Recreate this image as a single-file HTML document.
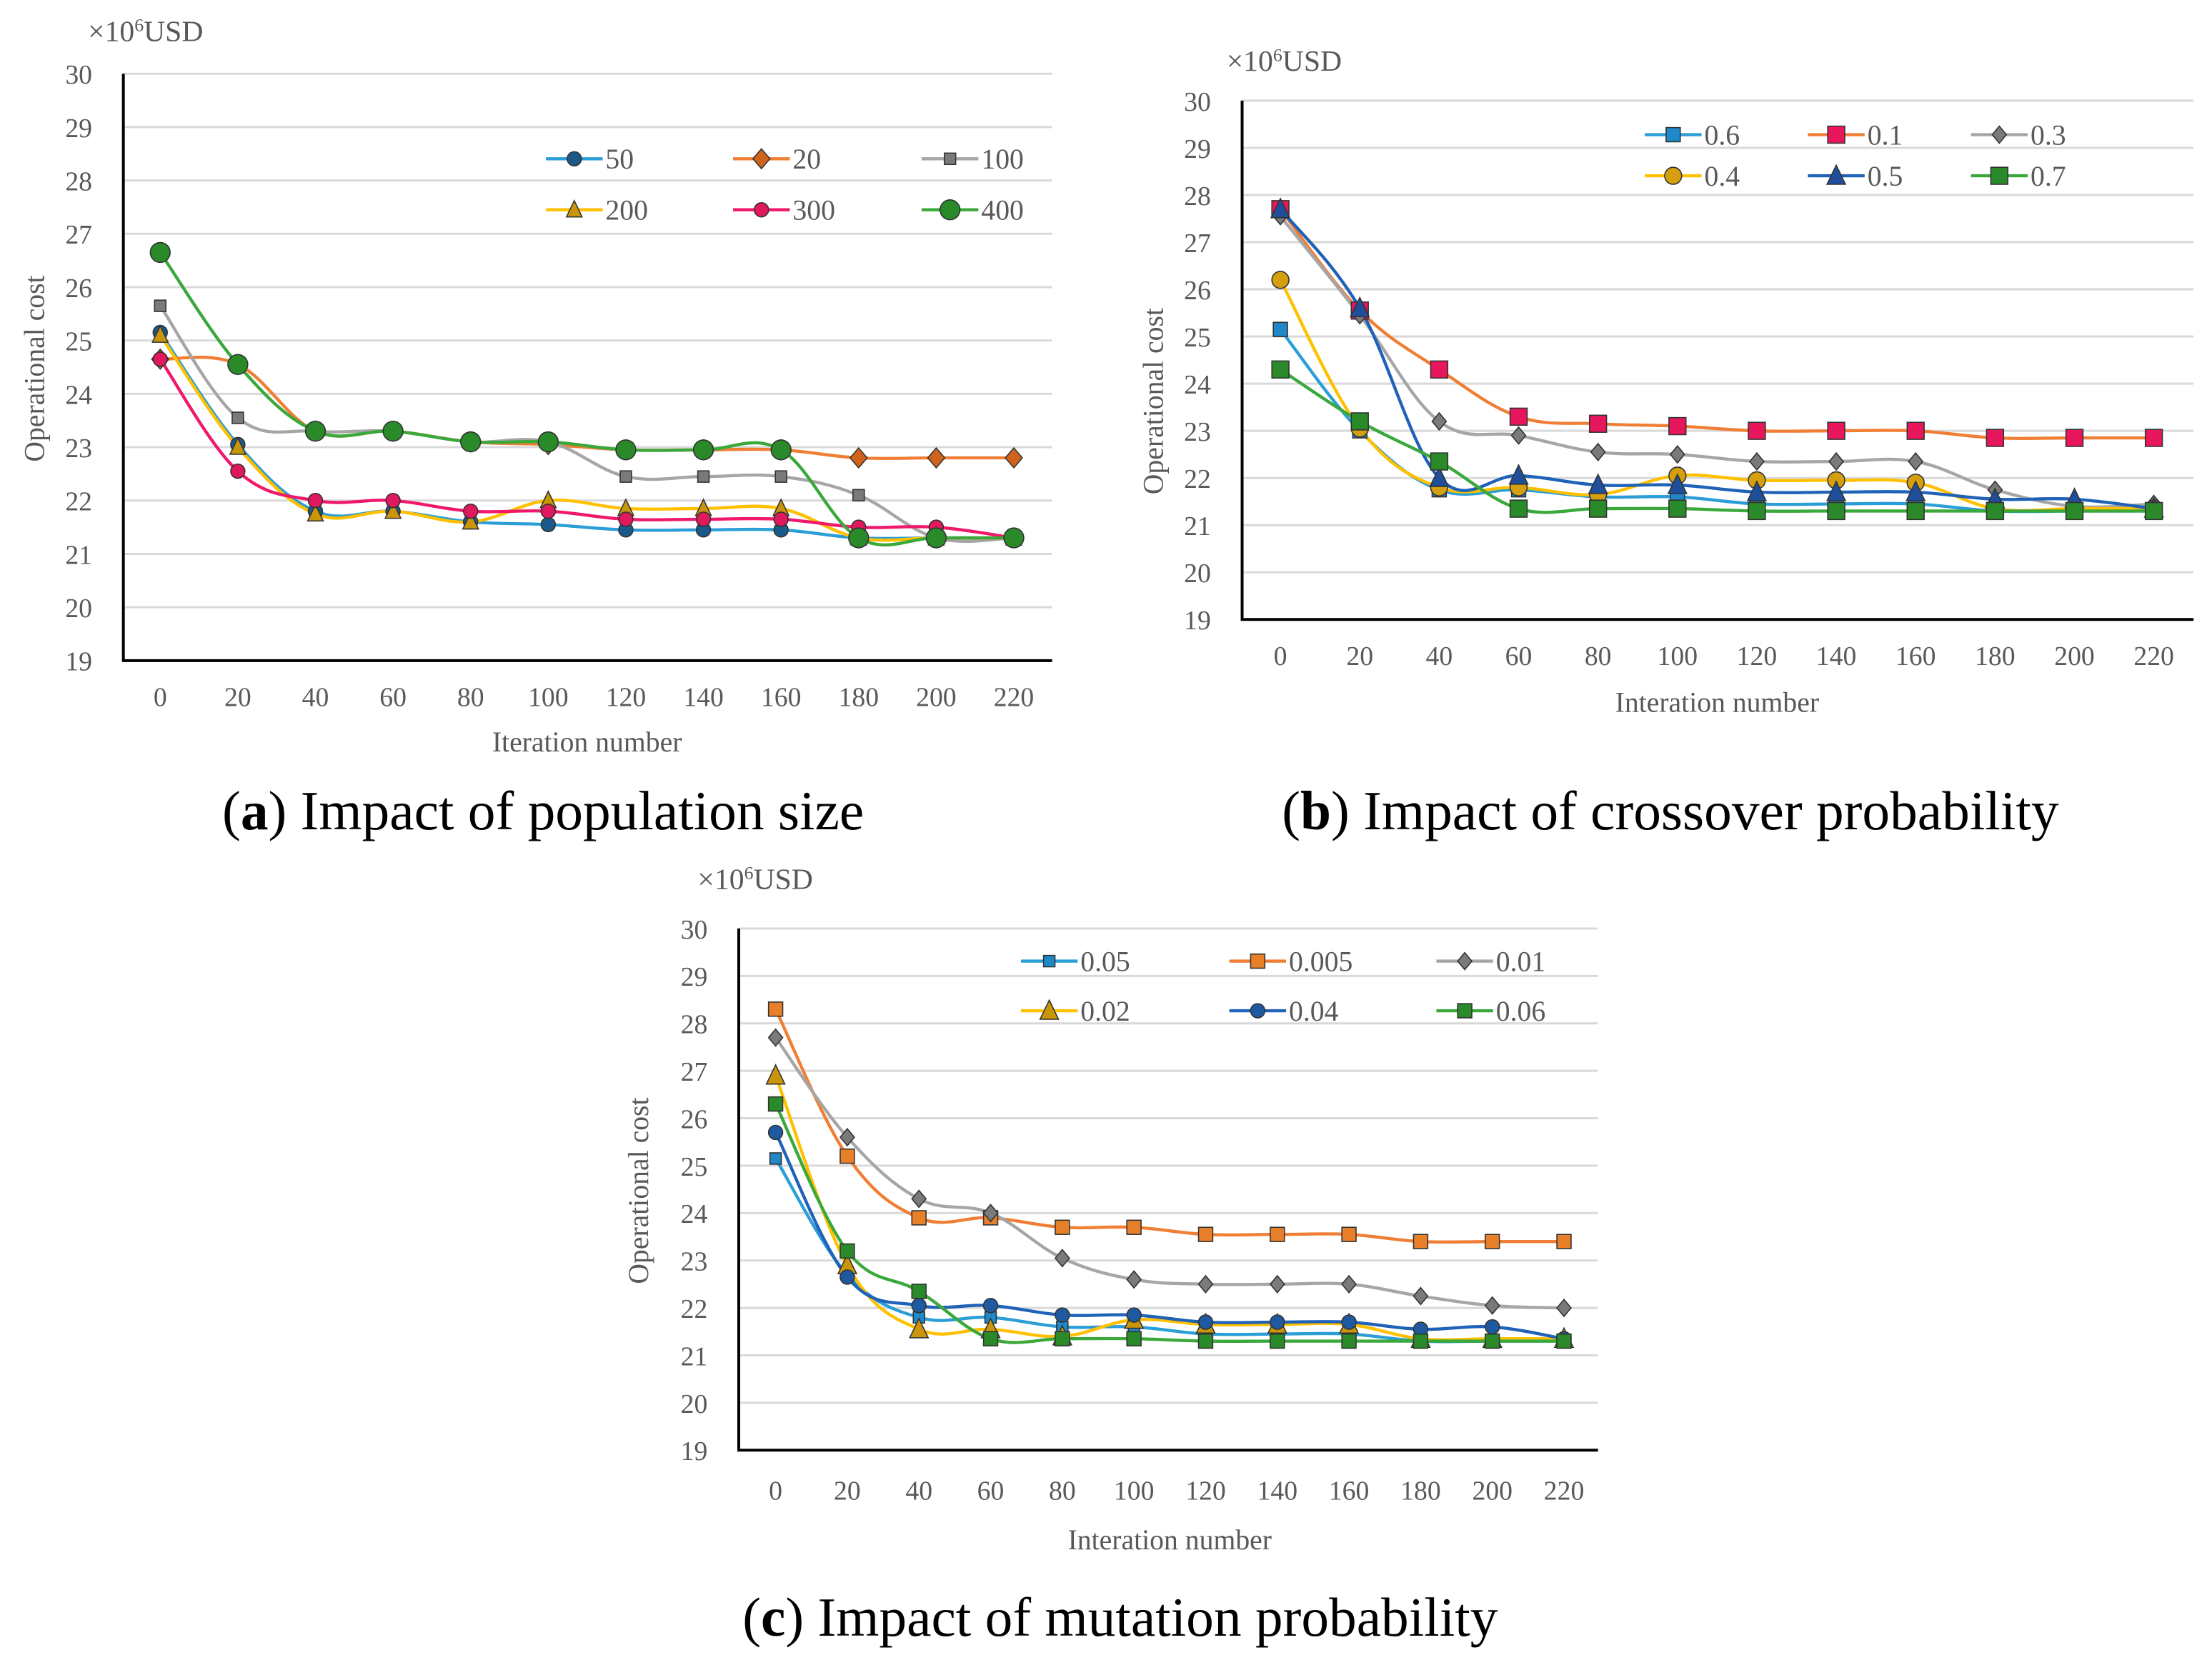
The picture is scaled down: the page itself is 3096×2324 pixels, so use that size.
<!DOCTYPE html>
<html><head><meta charset="utf-8"><style>
html,body{margin:0;padding:0;background:#fff}
svg{display:block}
text{font-family:"Liberation Serif",serif}
</style></head><body>
<svg id="fig" width="3096" height="2324" viewBox="0 0 1560 1171" xmlns="http://www.w3.org/2000/svg">
<rect width="1560" height="1171" fill="#fff"/>
<text x="383" y="585" font-size="39" text-anchor="middle" fill="#000">(<tspan font-weight="bold">a</tspan>) Impact of population size</text>
<text x="1178" y="585" font-size="39" text-anchor="middle" fill="#000">(<tspan font-weight="bold">b</tspan>) Impact of crossover probability</text>
<text x="790" y="1154" font-size="39" text-anchor="middle" fill="#000">(<tspan font-weight="bold">c</tspan>) Impact of mutation probability</text>
</svg>
<script>
const xTicks=[0,20,40,60,80,100,120,140,160,180,200,220];
const yTicks=[19,20,21,22,23,24,25,26,27,28,29,30];

const aNames=["50","20","100","200","300","400"];
const a50=[25.15,23.05,21.8,21.8,21.6,21.55,21.45,21.45,21.45,21.3,21.3,21.3];
const a20=[24.65,24.55,23.3,23.3,23.1,23.05,22.95,22.95,22.95,22.8,22.8,22.8];
const a100=[25.65,23.55,23.3,23.3,23.1,23.1,22.45,22.45,22.45,22.1,21.3,21.3];
const a200=[25.1,23.0,21.75,21.8,21.6,22.0,21.85,21.85,21.85,21.3,21.3,21.3];
const a300=[24.65,22.55,22.0,22.0,21.8,21.8,21.65,21.65,21.65,21.5,21.5,21.3];
const a400=[26.65,24.55,23.3,23.3,23.1,23.1,22.95,22.95,22.95,21.3,21.3,21.3];

const bNames=["0.6","0.1","0.3","0.4","0.5","0.7"];
const b06=[25.15,23.0,21.75,21.75,21.6,21.6,21.45,21.45,21.45,21.3,21.3,21.3];
const b01=[27.7,25.55,24.3,23.3,23.15,23.1,23.0,23.0,23.0,22.85,22.85,22.85];
const b03=[27.55,25.45,23.2,22.9,22.55,22.5,22.35,22.35,22.35,21.75,21.4,21.45];
const b04=[26.2,23.05,21.8,21.8,21.65,22.05,21.95,21.95,21.9,21.35,21.35,21.35];
const b05=[27.7,25.6,22.0,22.05,21.85,21.85,21.7,21.7,21.7,21.55,21.55,21.35];
const b07=[24.3,23.2,22.35,21.35,21.35,21.35,21.3,21.3,21.3,21.3,21.3,21.3];

const cNames=["0.05","0.005","0.01","0.02","0.04","0.06"];
const c005=[25.15,22.7,21.8,21.8,21.6,21.6,21.45,21.45,21.45,21.3,21.3,21.3];
const c0005=[28.3,25.2,23.9,23.9,23.7,23.7,23.55,23.55,23.55,23.4,23.4,23.4];
const c001=[27.7,25.6,24.3,24.0,23.05,22.6,22.5,22.5,22.5,22.25,22.05,22.0];
const c002=[26.9,22.9,21.55,21.55,21.4,21.75,21.65,21.65,21.65,21.35,21.35,21.35];
const c004=[25.7,22.65,22.05,22.05,21.85,21.85,21.7,21.7,21.7,21.55,21.6,21.35];
const c006=[26.3,23.2,22.35,21.35,21.35,21.35,21.3,21.3,21.3,21.3,21.3,21.3];

const NS="http://www.w3.org/2000/svg";
const svg=document.getElementById('fig');
function mk(tag,attrs,parent){const e=document.createElementNS(NS,tag);for(const k in attrs)e.setAttribute(k,attrs[k]);(parent||svg).appendChild(e);return e;}

function marker(g,shape,x,y,fill,r){
  let e;
  if(shape==='circle'){e=mk('circle',{cx:x,cy:y,r:r,fill:fill,stroke:'#333','stroke-width':0.8},g);}
  else if(shape==='diamond'){e=mk('path',{d:`M${x} ${y-r-1}L${x+r} ${y}L${x} ${y+r+1}L${x-r} ${y}Z`,fill:fill,stroke:'#333','stroke-width':0.8},g);}
  else if(shape==='square'){e=mk('rect',{x:x-r,y:y-r,width:2*r,height:2*r,fill:fill,stroke:'#333','stroke-width':0.8},g);}
  else {e=mk('path',{d:`M${x} ${y-r-1.5}L${x+r+0.5} ${y+r}L${x-r-0.5} ${y+r}Z`,fill:fill,stroke:'#333','stroke-width':0.8},g);}
  
  
}

function smoothPath(pts){
  let d=`M${pts[0][0]} ${pts[0][1]}`;
  for(let i=0;i<pts.length-1;i++){
    const p0=pts[Math.max(0,i-1)],p1=pts[i],p2=pts[i+1],p3=pts[Math.min(pts.length-1,i+2)];
    const t=0.18;
    const c1=[p1[0]+(p2[0]-p0[0])*t,p1[1]+(p2[1]-p0[1])*t];
    const c2=[p2[0]-(p3[0]-p1[0])*t,p2[1]-(p3[1]-p1[1])*t];
    d+=`C${c1[0]} ${c1[1]} ${c2[0]} ${c2[1]} ${p2[0]} ${p2[1]}`;
  }
  return d;
}

function chart(cfg){
  const g=mk('g',{});
  
  
  const {L,R,T,B,x0,x1}=cfg;
  const xs=v=>x0+(v-xTicks[0])/(xTicks[xTicks.length-1]-xTicks[0])*(x1-x0);
  const ys=v=>B-(v-19)/(30-19)*(B-T);
  yTicks.forEach(t=>{
    if(t>19){const l=mk('line',{x1:L,x2:R,y1:ys(t),y2:ys(t),stroke:'#d9d9d9','stroke-width':1.5},g);
    }
    const tx=mk('text',{x:L-22,y:ys(t)+7,'font-size':19,'text-anchor':'end',fill:'#595959'},g);
    tx.textContent=t;
    
  });
  const ax=mk('path',{d:`M${L} ${T}L${L} ${B}L${R} ${B}`,fill:'none',stroke:'#000','stroke-width':2},g);
  
  xTicks.forEach(t=>{
    const tx=mk('text',{x:xs(t),y:cfg.xlY,'font-size':19,'text-anchor':'middle',fill:'#595959'},g);
    tx.textContent=t;
    
  });
  const xt=mk('text',{x:cfg.xtX,y:cfg.xtY,'font-size':20,'text-anchor':'middle',fill:'#595959'},g);
  xt.textContent=cfg.xtitle;
  
  const yt=mk('text',{x:0,y:0,'font-size':20,'text-anchor':'middle',fill:'#595959',transform:`translate(${cfg.ytX},${cfg.ytY}) rotate(-90)`},g);
  yt.textContent='Operational cost';
  
  const un=mk('text',{x:cfg.uX,y:cfg.uY,'font-size':21,fill:'#595959'},g);
  un.innerHTML='×10<tspan font-size="13" dy="-7">6</tspan><tspan dy="7">USD</tspan>';
  
  cfg.series.forEach((s,i)=>{
    const pts=s.vals.map((v,j)=>[xs(xTicks[j]),ys(v)]);
    const p=mk('path',{d:smoothPath(pts),fill:'none',stroke:s.line,'stroke-width':2.2},g);
    
  });
  cfg.series.forEach((s,i)=>{
    s.vals.forEach((v,j)=>marker(g,s.shape,xs(xTicks[j]),ys(v),s.fill,s.r));
    const lx=cfg.legX[i%3], ly=cfg.legY[Math.floor(i/3)];
    const ll=mk('line',{x1:lx,x2:lx+40,y1:ly,y2:ly,stroke:s.line,'stroke-width':2.2},g);
    
    marker(g,s.shape,lx+20,ly,s.fill,s.r);
    const lt=mk('text',{x:lx+42,y:ly+7,'font-size':20,fill:'#595959'},g);
    lt.textContent=s.label;
    
  });
}

const BLUE='#2b9ed8',ORANGE='#f07f35',GRAY='#a6a6a6',YEL='#ffc000',PINK='#f0186a',GREEN='#3aa83a',DBLUE='#1f62b8';

chart({name:'chart-population-size',L:87,R:742,T:52,B:466,x0:113,x1:715,xlY:498,xtX:414,xtY:530,xtitle:'Iteration number',ytX:31,ytY:260,uX:62,uY:29,
 legX:[385,517,650],legY:[112,148],
 series:[
  {label:aNames[0],vals:a50,line:BLUE,fill:'#1a5a8a',shape:'circle',r:5},
  {label:aNames[1],vals:a20,line:ORANGE,fill:'#d0631c',shape:'diamond',r:6},
  {label:aNames[2],vals:a100,line:GRAY,fill:'#7a7a7a',shape:'square',r:4},
  {label:aNames[3],vals:a200,line:YEL,fill:'#c9960a',shape:'tri',r:5},
  {label:aNames[4],vals:a300,line:PINK,fill:'#e0185e',shape:'circle',r:5},
  {label:aNames[5],vals:a400,line:GREEN,fill:'#2a8a2a',shape:'circle',r:7}
 ]});

chart({name:'chart-crossover-probability',L:876,R:1547,T:71,B:437,x0:903,x1:1519,xlY:469,xtX:1211,xtY:502,xtitle:'Interation number',ytX:820,ytY:283,uX:865,uY:50,
 legX:[1160,1275,1390],legY:[95,124],
 series:[
  {label:bNames[0],vals:b06,line:BLUE,fill:'#1e88c8',shape:'square',r:5},
  {label:bNames[1],vals:b01,line:ORANGE,fill:'#e8175d',shape:'square',r:6},
  {label:bNames[2],vals:b03,line:GRAY,fill:'#7a7a7a',shape:'diamond',r:5},
  {label:bNames[3],vals:b04,line:YEL,fill:'#d4a010',shape:'circle',r:6},
  {label:bNames[4],vals:b05,line:DBLUE,fill:'#1f4f9a',shape:'tri',r:6},
  {label:bNames[5],vals:b07,line:GREEN,fill:'#2a8a2a',shape:'square',r:6}
 ]});

chart({name:'chart-mutation-probability',L:521,R:1127,T:655,B:1023,x0:547,x1:1103,xlY:1058,xtX:825,xtY:1093,xtitle:'Interation number',ytX:457,ytY:840,uX:492,uY:627,
 legX:[720,867,1013],legY:[678,713],
 series:[
  {label:cNames[0],vals:c005,line:BLUE,fill:'#1e88c8',shape:'square',r:4},
  {label:cNames[1],vals:c0005,line:ORANGE,fill:'#e8802a',shape:'square',r:5},
  {label:cNames[2],vals:c001,line:GRAY,fill:'#7a7a7a',shape:'diamond',r:5},
  {label:cNames[3],vals:c002,line:YEL,fill:'#c9960a',shape:'tri',r:6},
  {label:cNames[4],vals:c004,line:DBLUE,fill:'#1f5aa0',shape:'circle',r:5},
  {label:cNames[5],vals:c006,line:GREEN,fill:'#2a8a2a',shape:'square',r:5}
 ]});
</script>
</body></html>
